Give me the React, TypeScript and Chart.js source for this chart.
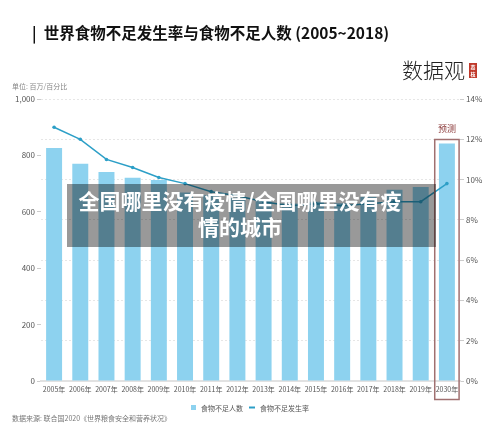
import React, { useEffect, useRef } from "react";
import { Chart, registerables } from "chart.js";

Chart.register(...registerables);

const FONT = '"Noto Sans CJK SC", "Noto Sans", sans-serif';

const years = [
  "2005年", "2006年", "2007年", "2008年", "2009年", "2010年", "2011年", "2012年",
  "2013年", "2014年", "2015年", "2016年", "2017年", "2018年", "2019年", "2030年",
];
const undernourishedPeople = [826, 770, 741, 721, 713, 668, 659, 650, 637, 629, 636, 630, 653, 678, 688, 842];
const undernourishmentRate = [12.6, 12.0, 11.0, 10.6, 10.1, 9.8, 9.4, 9.2, 8.9, 8.7, 8.8, 8.7, 8.8, 8.9, 8.9, 9.8];

const titleText = "|  世界食物不足发生率与食物不足人数 (2005~2018)";
const unitText = "单位: 百万/百分比";
const sourceText = "数据来源: 联合国2020《世界粮食安全和营养状况》";
const legendBar = "食物不足人数";
const legendLine = "食物不足发生率";
const forecastLabel = "预测";
const overlayLines = ["全国哪里没有疫情/全国哪里没有疫", "情的城市"];

const BAR_COLOR = "#8dd2ef";
const LINE_COLOR = "#2c9fc7";

const decorPlugin = {
  id: "decor",
  beforeDraw(chart: any) {
    const ctx = chart.ctx;
    ctx.save();
    ctx.fillStyle = "#ffffff";
    ctx.fillRect(0, 0, chart.width, chart.height);
    ctx.restore();
  },
  afterDraw(chart: any) {
    const ctx = chart.ctx;
    const x = chart.scales.x;
    ctx.save();
    // title
    ctx.fillStyle = "#111";
    ctx.font = `bold 15.5px ${FONT}`;
    ctx.textBaseline = "middle";
    ctx.textAlign = "left";
    ctx.fillText(titleText, 32, 33);

    // logo
    ctx.font = `300 21px ${FONT}`;
    ctx.fillStyle = "#222";
    ctx.fillText("数据观", 402, 70);
    ctx.fillStyle = "#c0392b";
    ctx.fillRect(469, 63, 8, 15);
    ctx.fillStyle = "#fff";
    ctx.font = `bold 5px ${FONT}`;
    ctx.textAlign = "center";
    ctx.fillText("荔", 473, 67);
    ctx.fillText("枝", 473, 74);

    // unit label
    ctx.textAlign = "left";
    ctx.fillStyle = "#888";
    ctx.font = `7px ${FONT}`;
    ctx.fillText(unitText, 12, 86);

    // legend
    ctx.fillStyle = BAR_COLOR;
    ctx.fillRect(191, 405, 5, 5);
    ctx.fillStyle = "#555";
    ctx.font = `7px ${FONT}`;
    ctx.fillText(legendBar, 201, 408);
    ctx.strokeStyle = LINE_COLOR;
    ctx.lineWidth = 2;
    ctx.beginPath();
    ctx.moveTo(249, 407.5);
    ctx.lineTo(255, 407.5);
    ctx.stroke();
    ctx.fillText(legendLine, 260, 408);

    // source
    ctx.fillStyle = "#777";
    ctx.fillText(sourceText, 12, 418);

    // forecast box around 2030
    const idx = years.length - 1;
    const cx = x.getPixelForValue(idx);
    const half = (x.getPixelForValue(1) - x.getPixelForValue(0)) * 0.465;
    ctx.strokeStyle = "#a07070";
    ctx.lineWidth = 1.5;
    ctx.strokeRect(cx - half, 139.5, half * 2, 260);
    ctx.fillStyle = "#8b3a3a";
    ctx.font = `9px ${FONT}`;
    ctx.textAlign = "center";
    ctx.fillText(forecastLabel, cx, 129);

    // overlay
    ctx.fillStyle = "rgba(0,0,0,0.4)";
    ctx.fillRect(67, 184, 369, 63);
    ctx.fillStyle = "#fff";
    ctx.font = `bold 21px ${FONT}`;
    ctx.textAlign = "center";
    ctx.fillText(overlayLines[0], 240, 201);
    ctx.fillText(overlayLines[1], 240, 227);
    ctx.restore();
  },
};

export default function App() {
  const ref = useRef<HTMLCanvasElement | null>(null);
  useEffect(() => {
    document.body.style.margin = "0";
    const canvas = ref.current;
    if (!canvas) return;
    const chart = new Chart(canvas, {
      type: "bar",
      data: {
        labels: years,
        datasets: [
          {
            type: "line",
            label: legendLine,
            data: undernourishmentRate,
            yAxisID: "yR",
            borderColor: LINE_COLOR,
            backgroundColor: LINE_COLOR,
            borderWidth: 1.5,
            pointRadius: 1.8,
            pointBackgroundColor: LINE_COLOR,
            pointBorderWidth: 0,
            tension: 0,
            order: 0,
          } as any,
          {
            type: "bar",
            label: legendBar,
            data: undernourishedPeople,
            yAxisID: "yL",
            backgroundColor: BAR_COLOR,
            barPercentage: 0.61,
            categoryPercentage: 1,
            order: 1,
          },
        ],
      },
      options: {
        responsive: false,
        animation: false,
        devicePixelRatio: 1,
        layout: { padding: { top: 99, left: 0, right: 0, bottom: 0 } },
        plugins: { legend: { display: false }, tooltip: { enabled: false }, title: { display: false } },
        scales: {
          x: {
            type: "category",
            grid: { display: false, drawTicks: false },
            border: { color: "#e2e2e2", width: 2 },
            ticks: { font: { size: 7, family: FONT }, color: "#555", maxRotation: 0, minRotation: 0, autoSkip: false, padding: 4 },
            afterFit(s: any) { s.height = 50; },
          },
          yL: {
            position: "left",
            min: 0,
            max: 1000,
            ticks: {
              stepSize: 200,
              font: { size: 8, family: FONT },
              color: "#555",
              padding: 2,
              callback: (v: any) => Number(v).toLocaleString("en-US"),
            },
            grid: { drawOnChartArea: false, tickLength: 4, tickColor: "#ccc" },
            border: { display: false },
            afterFit(s: any) { s.width = 41; },
          },
          yR: {
            position: "right",
            min: 0,
            max: 14,
            ticks: {
              stepSize: 2,
              font: { size: 8, family: FONT },
              color: "#555",
              padding: 2,
              callback: (v: any) => v + "%",
            },
            grid: { color: "#e6e6e6", tickColor: "#ccc", tickLength: 4, lineWidth: 1 },
            border: { display: false, dash: [2, 2] },
            afterFit(s: any) { s.width = 40; },
          },
        },
      } as any,
      plugins: [decorPlugin],
    });
    return () => chart.destroy();
  }, []);
  return (
    <div style={{ position: "absolute", left: 0, top: 0, width: 500, height: 431 }}>
      <canvas ref={ref} width={500} height={431} style={{ width: 500, height: 431, display: "block" }} />
    </div>
  );
}
